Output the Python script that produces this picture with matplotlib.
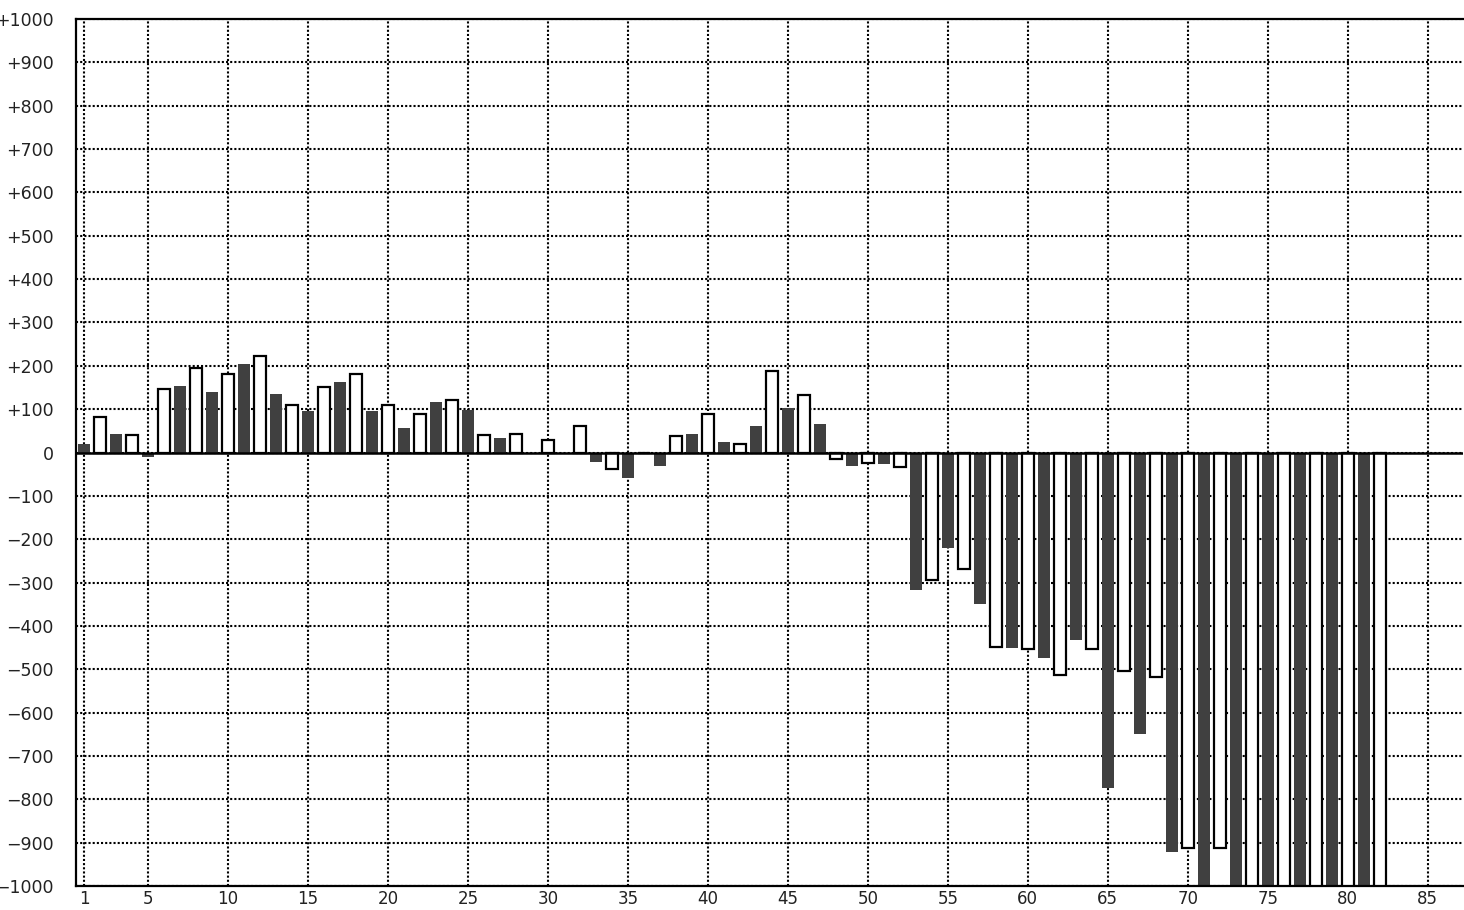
import matplotlib
matplotlib.use("Agg")
import matplotlib.pyplot as plt
import numpy as np

# Dark bars at odd positions 1,3,...,81
dark_x = list(range(1, 82, 2))
dark_values = [20, 43, -11, 154, 140, 204, 135, 96, 163, 95,
               57, 117, 99, 34, 0, 0, -22, -59, -31, 43,
               24, 62, 103, 66, -31, -27, -317, -220, -350, -451,
               -474, -433, -774, -650, -922, -1100, -1100, -1100, -1100, -1100,
               -1100]
# Open (white) bars at even positions 2,4,...,82
light_x = list(range(2, 83, 2))
light_values = [83, 41, 147, 194, 180, 222, 110, 152, 181, 110,
                88, 121, 41, 42, 28, 61, -39, 0, 37, 88,
                19, 188, 133, -16, -25, -34, -293, -269, -449, -454,
                -514, -454, -505, -519, -912, -912, -1100, -1100, -1100, -1100,
                -1100]

x_ticks = [1, 5, 10, 15, 20, 25, 30, 35, 40, 45, 50, 55, 60, 65, 70, 75, 80, 85]
y_ticks = list(range(-1000, 1001, 100))


def ylab(v):
    if v > 0:
        return "+%d" % v
    if v < 0:
        return "\u2212%d" % (-v)
    return "0"


fig = plt.figure(figsize=(14.64, 9.10), dpi=100)
ax = fig.add_axes([76 / 1464, 1 - 886 / 910, (1463 - 76) / 1464, (886 - 19) / 910])

ax.bar(dark_x, dark_values, width=0.75, color="#404040", edgecolor="none", zorder=2)
ax.bar(light_x, light_values, width=0.72, color="white", edgecolor="black",
       linewidth=1.6, zorder=2)

ax.axhline(0, color="black", linewidth=1.8, zorder=3)

ax.set_xlim(0.5, 87.2)
ax.set_ylim(-1000, 1000)
ax.set_xticks(x_ticks)
ax.set_xticklabels([str(t) for t in x_ticks])
ax.set_yticks(y_ticks)
ax.set_yticklabels([ylab(v) for v in y_ticks])

ax.grid(True, color="black", linestyle=(0, (1, 1)), linewidth=1.5, zorder=0)
ax.set_axisbelow(True)

for s in ["left", "top", "bottom"]:
    ax.spines[s].set_linewidth(1.6)
    ax.spines[s].set_color("black")
ax.spines["right"].set_visible(False)

ax.tick_params(axis="y", length=0, pad=16, labelsize=12.5, labelcolor="#222222")
ax.tick_params(axis="x", length=0, pad=3, labelsize=12, labelcolor="#222222")

fig.savefig("out.png", dpi=100)
